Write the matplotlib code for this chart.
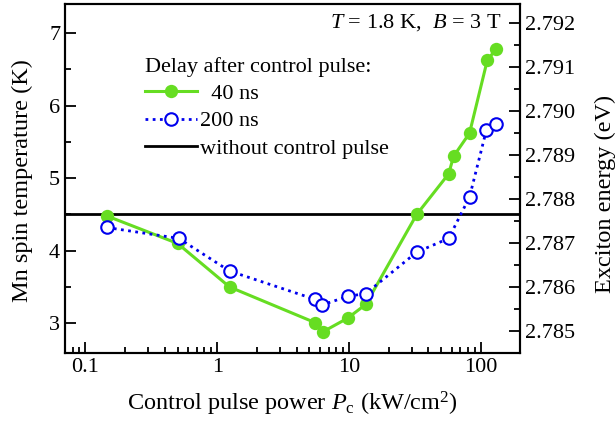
import matplotlib

matplotlib.use("Agg")
import matplotlib.pyplot as plt
from matplotlib.lines import Line2D
from matplotlib.ticker import FixedLocator, MultipleLocator, LogLocator, NullFormatter

plt.rcParams["font.family"] = ["Liberation Serif", "DejaVu Serif"]
plt.rcParams["mathtext.fontset"] = "custom"
plt.rcParams["mathtext.rm"] = "Liberation Serif"
plt.rcParams["mathtext.it"] = "Liberation Serif:italic"

# 40 ns delay
power_40 = [0.145, 0.50, 1.24, 5.5, 6.3, 9.75, 13.4, 32.6, 57, 62, 82, 112, 131]
temp_40 = [4.48, 4.10, 3.50, 3.01, 2.88, 3.07, 3.26, 4.50, 5.06, 5.30, 5.62, 6.63, 6.78]

# 200 ns delay
power_200 = [0.145, 0.51, 1.24, 5.5, 6.2, 9.75, 13.4, 32.6, 57, 82, 110, 131]
temp_200 = [4.32, 4.17, 3.72, 3.33, 3.25, 3.37, 3.41, 3.98, 4.17, 4.74, 5.66, 5.74]

temp_no_control = 4.5

left_ticks = [3, 4, 5, 6, 7]
right_ticks = [2.785, 2.786, 2.787, 2.788, 2.789, 2.790, 2.791, 2.792]

GREEN = "#66dd22"
BLUE = "#0000ee"

fig = plt.figure(figsize=(6.16, 4.24), dpi=100)
ax = fig.add_axes([65 / 616, 1 - 353 / 424, 455 / 616, 349 / 424])

ax.axhline(temp_no_control, color="black", lw=2, zorder=2)
ax.plot(power_40, temp_40, "-o", color=GREEN, lw=2.2, ms=9.6,
        markeredgewidth=0, zorder=3)
ax.plot(power_200, temp_200, linestyle=(0, (1, 1.6)), marker="o", color=BLUE,
        lw=2, ms=9, markerfacecolor="white", markeredgecolor=BLUE,
        markeredgewidth=1.5, zorder=4)

ax.set_xscale("log")
ax.set_xlim(0.07, 198)
ax.set_ylim(2.59, 7.40)
ax.xaxis.set_major_locator(FixedLocator([0.1, 1, 10, 100]))
ax.set_xticklabels(["0.1", "1", "10", "100"])
ax.xaxis.set_minor_locator(LogLocator(base=10, subs=range(2, 10)))
ax.xaxis.set_minor_formatter(NullFormatter())
ax.yaxis.set_major_locator(FixedLocator(left_ticks))
ax.yaxis.set_minor_locator(MultipleLocator(0.5))

ax.tick_params(which="both", direction="in", top=False, right=False,
               labelsize=16, width=1.3)
ax.tick_params(which="major", length=8)
ax.tick_params(which="minor", length=4.5)
for sp in ax.spines.values():
    sp.set_linewidth(1.5)

ax.set_xlabel(r"Control pulse power $P_{\rm c}$ (kW/cm$^2$)", fontsize=17.5,
              labelpad=9)
ax.set_ylabel("Mn spin temperature (K)", fontsize=17.5)
ax.yaxis.set_label_coords(-0.07, 0.493)

ax2 = ax.twinx()
ax2.set_ylim(2.7845, 2.79243)
ax2.yaxis.set_major_locator(FixedLocator(right_ticks))
ax2.yaxis.set_minor_locator(MultipleLocator(0.0005))
ax2.set_yticklabels([f"{t:.3f}" for t in right_ticks])
ax2.tick_params(which="both", direction="in", labelsize=16, width=1.3)
ax2.tick_params(which="major", length=8)
ax2.tick_params(which="minor", length=4.5)
ax2.set_ylabel("Exciton energy (eV)", fontsize=17.5)
ax2.yaxis.set_label_coords(1.165, 0.456)
for sp in ax2.spines.values():
    sp.set_linewidth(1.5)

ax.text(0.96, 0.948, r"$T$ = 1.8 K,  $B$ = 3 T", transform=ax.transAxes,
        ha="right", va="center", fontsize=16)

handles = [
    Line2D([], [], color=GREEN, lw=2.2, marker="o", ms=9.6, markeredgewidth=0),
    Line2D([], [], color=BLUE, lw=2, linestyle=(0, (1, 1.6)), marker="o", ms=9,
           markerfacecolor="white", markeredgecolor=BLUE, markeredgewidth=1.5),
    Line2D([], [], color="black", lw=2),
]
leg = ax.legend(handles, ["  40 ns", "200 ns", "without control pulse"],
                title="Delay after control pulse:", loc="upper left",
                bbox_to_anchor=(0.176, 0.848), frameon=False, fontsize=16,
                title_fontsize=16, handlelength=2.34, handletextpad=0.14,
                labelspacing=0.3, borderpad=0, borderaxespad=0)
leg._legend_box.align = "left"

fig.savefig("out.png", dpi=100)
